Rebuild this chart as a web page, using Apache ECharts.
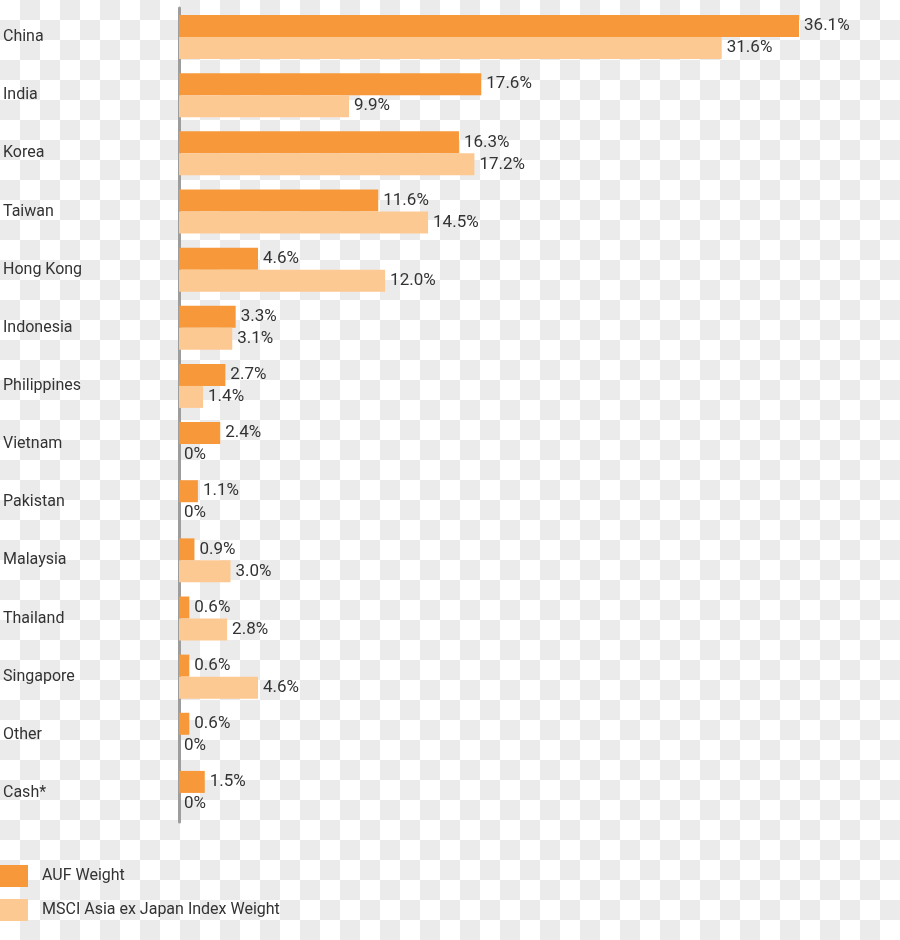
<!DOCTYPE html>
<html>
<head>
<meta charset="utf-8">
<script src="https://cdn.jsdelivr.net/npm/echarts@6/dist/echarts.min.js"></script>
<style>
html,body{margin:0;padding:0;}
body{
  width:900px;height:940px;
  background-color:#fff;
  background-image:conic-gradient(#ebebeb 0 25%, #fff 0 50%, #ebebeb 0 75%, #fff 0);
  background-size:40px 40px;
}
#chart{width:900px;height:940px;}
</style>
</head>
<body>
<div id="chart"></div>
<script>
const categories = ['China','India','Korea','Taiwan','Hong Kong','Indonesia','Philippines','Vietnam','Pakistan','Malaysia','Thailand','Singapore','Other','Cash*'];
const aufWeight = [36.1, 17.6, 16.3, 11.6, 4.6, 3.3, 2.7, 2.4, 1.1, 0.9, 0.6, 0.6, 0.6, 1.5];
const msciWeight = [31.6, 9.9, 17.2, 14.5, 12.0, 3.1, 1.4, 0, 0, 3.0, 2.8, 4.6, 0, 0];
const seriesNames = ['AUF Weight', 'MSCI Asia ex Japan Index Weight'];

const FONT = 'Roboto, "Noto Sans", sans-serif';
const fmt = p => (p.value === 0 ? '0' : p.value.toFixed(1)) + '%';

const chart = echarts.init(document.getElementById('chart'), null, {renderer:'canvas'});
chart.setOption({
  backgroundColor: 'transparent',
  animation: false,
  textStyle: {fontFamily: FONT},
  grid: {left: 177, right: 34, top: 8, bottom: 118, containLabel: false},
  legend: {
    orient: 'vertical', left: 0, top: 865, padding: 0,
    itemWidth: 28, itemHeight: 22, itemGap: 12, icon: 'rect',
    textStyle: {fontSize: 16, color: '#333', fontFamily: FONT, padding: [5,0,0,9]},
    data: seriesNames
  },
  xAxis: {type: 'value', min: 0, max: 40, show: false},
  yAxis: {
    type: 'category', inverse: true, data: categories,
    axisLine: {show: true, onZero: false, lineStyle: {color: '#9d9d9d', width: 3}},
    axisTick: {show: false},
    axisLabel: {align: 'left', margin: 176, fontSize: 16, color: '#333', fontFamily: FONT}
  },
  series: [
    {
      name: seriesNames[0], type: 'bar', data: aufWeight, barWidth: 22, barGap: '0%',
      itemStyle: {color: '#f7993b'},
      label: {show: true, position: 'right', distance: 5, formatter: fmt, fontSize: 17, color: '#333', fontFamily: FONT}
    },
    {
      name: seriesNames[1], type: 'bar', data: msciWeight, barWidth: 22, barGap: '0%',
      itemStyle: {color: '#fdc993'},
      label: {show: true, position: 'right', distance: 5, formatter: fmt, fontSize: 17, color: '#333', fontFamily: FONT}
    }
  ]
});
</script>
</body>
</html>
